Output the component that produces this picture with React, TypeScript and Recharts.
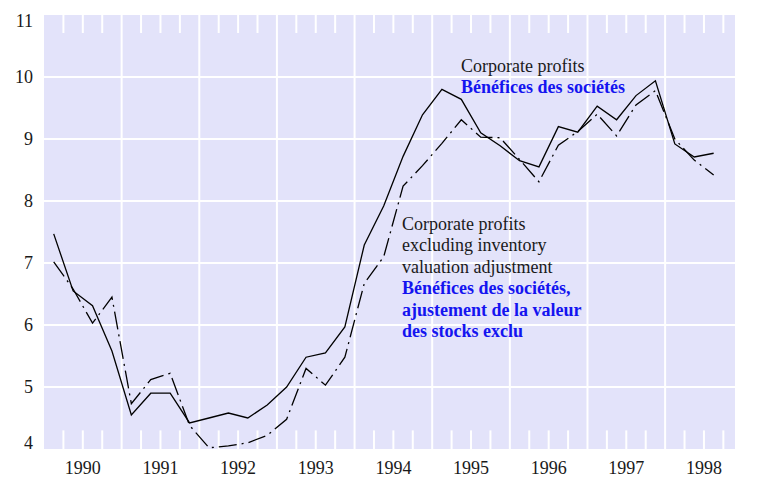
import React from "react";
import { LineChart, Line, XAxis, YAxis, CartesianGrid, ReferenceLine } from "recharts";

// quarterly, 1990 Q1 .. 1998 Q3, % (share of GDP)
const years = [1990, 1991, 1992, 1993, 1994, 1995, 1996, 1997, 1998];
const yTicks = [4, 5, 6, 7, 8, 9, 10, 11];

const profits = [
  7.47, 6.55, 6.31, 5.58,
  4.55, 4.9, 4.9, 4.42,
  4.5, 4.58, 4.5, 4.71,
  5.0, 5.48, 5.55, 5.97,
  7.29, 7.92, 8.72, 9.39,
  9.8, 9.64, 9.1, 8.89,
  8.65, 8.55, 9.2, 9.11,
  9.53, 9.31, 9.7, 9.94,
  8.92, 8.71, 8.77,
];

const profitsExIva = [
  7.02, 6.58, 6.03, 6.45,
  4.73, 5.12, 5.22, 4.38,
  4.02, 4.05, 4.1, 4.22,
  4.48, 5.3, 5.03, 5.48,
  6.67, 7.1, 8.24, 8.57,
  8.93, 9.31, 9.03, 9.02,
  8.67, 8.31, 8.9, 9.12,
  9.4, 9.05, 9.55, 9.78,
  9.0, 8.66, 8.42,
];

const label1 = ["Corporate profits", "Bénéfices des sociétés"];
const label2en = ["Corporate profits", "excluding inventory", "valuation adjustment"];
const label2fr = ["Bénéfices des sociétés,", "ajustement de la valeur", "des stocks exclu"];

const data = profits.map((v, i) => ({
  t: years[0] + (i + 0.5) / 4,
  profits: v,
  exIva: profitsExIva[i],
}));

const yearLabelPos = years.map((y) => y + 0.5);
const yearLines = years.slice(1);
const quarterMarks = years.flatMap((y) => [0.25, 0.5, 0.75].map((f) => y + f));

const FONT = '"Liberation Serif", "Times New Roman", serif';
const INK = "#1a1a1a";
const BLUE = "#1414f0";
const BG = "#e3e3fa";

function yShift(v: number) {
  if (v === 11) return 11.5;
  if (v === 4) return 0;
  return 6;
}

const LeftTick = (props: any) => {
  const { x, y, payload } = props;
  return (
    <text x={x - 11} y={y + yShift(payload.value)} textAnchor="end" fontFamily={FONT} fontSize={18} fill={INK}>
      {payload.value}
    </text>
  );
};

const RightTick = (props: any) => {
  const { x, y, payload } = props;
  return (
    <text x={x + 30} y={y + yShift(payload.value)} textAnchor="end" fontFamily={FONT} fontSize={18} fill={INK}>
      {payload.value}
    </text>
  );
};

const YearTick = (props: any) => {
  const { x, y, payload } = props;
  return (
    <text x={x} y={y + 25} textAnchor="middle" fontFamily={FONT} fontSize={18} fill={INK}>
      {Math.floor(payload.value)}
    </text>
  );
};

export default function App() {
  return (
    <div style={{ position: "absolute", left: 0, top: 0, width: 766, height: 477 }}>
      <LineChart width={766} height={477} data={data} margin={{ top: 15, right: 0, bottom: 0, left: 0 }}>
        <CartesianGrid
          fill={BG}
          fillOpacity={1}
          stroke="#fff"
          strokeWidth={2}
          horizontalValues={[5, 6, 7, 8, 9, 10]}
          verticalValues={yearLines}
        />
        <XAxis
          dataKey="t"
          type="number"
          domain={[1990, 1998.9]}
          ticks={yearLabelPos}
          interval={0}
          allowDataOverflow
          axisLine={false}
          tickLine={false}
          tickSize={0}
          tickMargin={0}
          height={28}
          tick={<YearTick />}
        />
        <YAxis
          domain={[4, 11]}
          ticks={yTicks}
          interval={0}
          width={44}
          axisLine={false}
          tickLine={false}
          tickSize={0}
          tickMargin={0}
          tick={<LeftTick />}
        />
        <YAxis
          yAxisId="r"
          orientation="right"
          domain={[4, 11]}
          ticks={yTicks}
          interval={0}
          width={31}
          axisLine={false}
          tickLine={false}
          tickSize={0}
          tickMargin={0}
          tick={<RightTick />}
        />
        {quarterMarks.map((q) => (
          <ReferenceLine
            key={"top" + q}
            segment={[{ x: q, y: 11 }, { x: q, y: 10.71 }]}
            stroke="#fff"
            strokeWidth={2}
          />
        ))}
        {quarterMarks.map((q) => (
          <ReferenceLine
            key={"bot" + q}
            segment={[{ x: q, y: 4 }, { x: q, y: 4.3 }]}
            stroke="#fff"
            strokeWidth={2}
          />
        ))}
        <Line
          dataKey="profits"
          type="linear"
          stroke="#000"
          strokeWidth={1.3}
          dot={false}
          isAnimationActive={false}
        />
        <Line
          dataKey="exIva"
          type="linear"
          stroke="#000"
          strokeWidth={1.3}
          strokeDasharray="18 5 2 5"
          dot={false}
          isAnimationActive={false}
        />
      </LineChart>
      <svg width={766} height={477} style={{ position: "absolute", left: 0, top: 0, pointerEvents: "none" }}>
        <g fontFamily={FONT} fontSize={18}>
          <text x={461} y={72} fill={INK}>{label1[0]}</text>
          <text x={461} y={93} fill={BLUE} fontWeight="bold">{label1[1]}</text>
          {label2en.map((s, i) => (
            <text key={s} x={402} y={230 + i * 21.4} fill={INK}>{s}</text>
          ))}
          {label2fr.map((s, i) => (
            <text key={s} x={402} y={294.2 + i * 21.4} fill={BLUE} fontWeight="bold">{s}</text>
          ))}
        </g>
      </svg>
    </div>
  );
}
